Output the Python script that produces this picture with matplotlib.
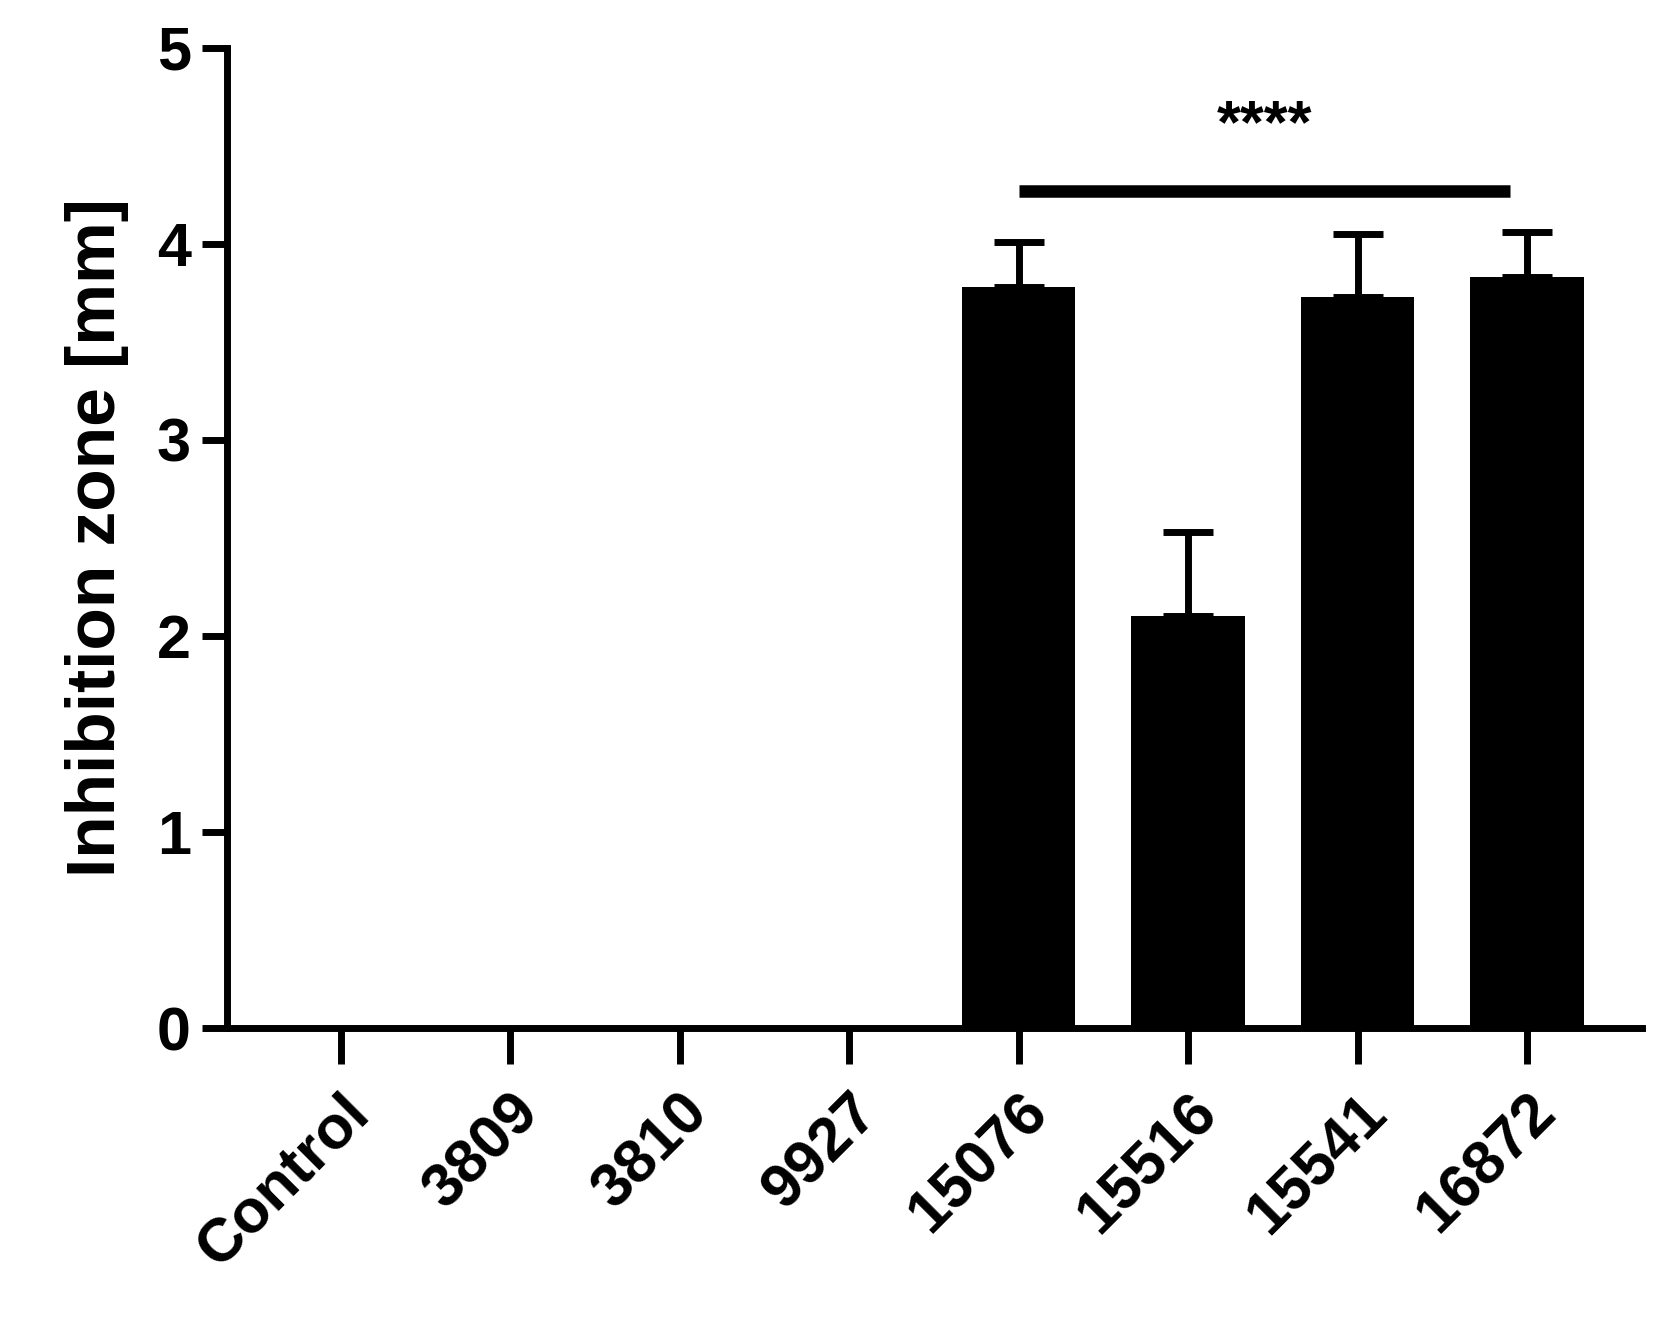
import matplotlib.pyplot as plt
import numpy as np

plt.rcParams['font.family'] = ['Liberation Sans', 'DejaVu Sans']
plt.rcParams['font.weight'] = 'bold'

strains = ['Control', '3809', '3810', '9927', '15076', '15516', '15541', '16872']
means = [0, 0, 0, 0, 3.78, 2.10, 3.73, 3.83]
sds = [0, 0, 0, 0, 0.23, 0.43, 0.32, 0.23]

fig = plt.figure(figsize=(16.69, 13.25), dpi=100)
ax = fig.add_axes([0.136, 0.224, 0.848, 0.74])

x = np.arange(len(strains))
ax.bar(x, means, width=0.67, color='black', zorder=2)
err_idx = [i for i in x if sds[i] > 0]
ax.errorbar(err_idx, [means[i] for i in err_idx],
            yerr=[[0] * len(err_idx), [sds[i] for i in err_idx]],
            fmt='none', ecolor='black', elinewidth=5, capsize=18, capthick=5, zorder=1)

# significance bracket
ax.plot([4, 6.9], [4.27, 4.27], color='black', linewidth=9, solid_capstyle='butt')
ax.text(5.45, 4.45, '****', ha='center', va='bottom', fontsize=44, fontweight='bold')

ax.set_xlim(-0.67, 7.68)
ax.set_ylim(0, 5)
ax.set_yticks([0, 1, 2, 3, 4, 5])
ax.set_xticks(x)
ax.set_xticklabels(strains, rotation=45, ha='right', rotation_mode='anchor')
ax.tick_params(axis='x', length=26, width=5, labelsize=44, pad=14)
ax.tick_params(axis='y', length=18, width=5, labelsize=44, pad=8)
for lbl in ax.get_xticklabels() + ax.get_yticklabels():
    lbl.set_fontweight('bold')
ax.set_ylabel('Inhibition zone [mm]', fontsize=50, fontweight='bold', labelpad=20)

ax.spines['top'].set_visible(False)
ax.spines['right'].set_visible(False)
ax.spines['left'].set_linewidth(5)
ax.spines['bottom'].set_linewidth(5)

plt.savefig('out.png', dpi=100)
